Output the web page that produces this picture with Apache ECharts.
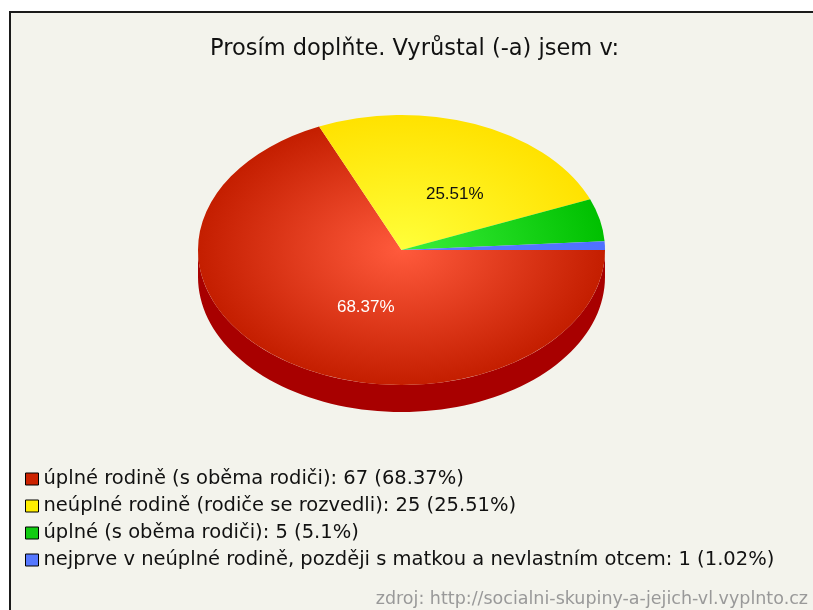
<!DOCTYPE html>
<html>
<head>
<meta charset="utf-8">
<script src="https://cdn.jsdelivr.net/npm/echarts@6/dist/echarts.min.js"></script>
<style>
  html, body { margin: 0; padding: 0; background: #fff; }
  #chart { width: 813px; height: 610px; }
</style>
</head>
<body>
<div id="chart"></div>
<script>
// data
const categories = [
  'úplné rodině (s oběma rodiči)',
  'neúplné rodině (rodiče se rozvedli)',
  'úplné (s oběma rodiči)',
  'nejprve v neúplné rodině, později s matkou a nevlastním otcem'
];
const counts = [67, 25, 5, 1];

// looks
const flatColors = ['#cc2200', '#ffee00', '#11cc11', '#5577ff'];
const topStops = [
  ['#ff5a3c', '#c41e00'],
  ['#ffff3a', '#ffe200'],
  ['#3cf03c', '#00c000'],
  ['#5a7cff', '#4f70ff']
];
const sideColors = ['#a80000', '#c8b000', '#008f00', '#3344cc'];
const labelColors = ['#fff', '#111', '#111', '#fff'];

// pie geometry (tilted)
const CX = 401.5, CY = 250, RX = 203.5, RY = 135, DEPTH = 27;

const total = counts.reduce((a, b) => a + b, 0);
const starts = [];
let acc = 0;
counts.forEach(v => { starts.push(acc); acc += v; });
const pct = v => +(v / total * 100).toFixed(2);

function renderSlice(i) {
  return function (params, api) {
    const v = api.value(0);
    const a0 = starts[i] / total * Math.PI * 2;
    const a1 = a0 + v / total * Math.PI * 2;
    const children = [];

    // front wall of the slice
    const s = Math.max(a0, 0), e = Math.min(a1, Math.PI);
    if (e > s) {
      const pts = [];
      const n = 80;
      for (let k = 0; k <= n; k++) {
        const t = s + (e - s) * k / n;
        pts.push([CX + RX * Math.cos(t), CY + RY * Math.sin(t)]);
      }
      for (let k = n; k >= 0; k--) {
        const t = s + (e - s) * k / n;
        pts.push([CX + RX * Math.cos(t), CY + RY * Math.sin(t) + DEPTH]);
      }
      children.push({ type: 'polygon', shape: { points: pts }, style: { fill: sideColors[i] } });
    }

    // top face
    children.push({
      type: 'sector',
      x: CX, y: CY, scaleY: RY / RX,
      shape: { cx: 0, cy: 0, r: RX, r0: 0, startAngle: a0, endAngle: a1, clockwise: true },
      style: {
        fill: {
          type: 'radial', x: 0, y: 0, r: RX, global: true,
          colorStops: [{ offset: 0, color: topStops[i][0] }, { offset: 1, color: topStops[i][1] }]
        }
      }
    });

    // percent label
    if (pct(v) >= 10) {
      const m = (a0 + a1) / 2;
      children.push({
        type: 'text',
        x: CX + 0.475 * RX * Math.cos(m) + 17,
        y: CY + 0.475 * RY * Math.sin(m) + 4,
        style: {
          text: pct(v) + '%',
          fill: labelColors[i],
          font: '17px "Liberation Sans", Arial, sans-serif',
          align: 'center', verticalAlign: 'middle'
        }
      });
    }
    return { type: 'group', children };
  };
}

const chart = echarts.init(document.getElementById('chart'));
chart.setOption({
  animation: false,
  backgroundColor: '#fff',
  title: [
    {
      text: 'Prosím doplňte. Vyrůstal (-a) jsem v:',
      left: 205, top: 33,
      textStyle: { fontFamily: 'DejaVu Sans', fontSize: 22.5, fontWeight: 'normal', color: '#111' }
    },
    {
      text: 'zdroj: http://socialni-skupiny-a-jejich-vl.vyplnto.cz',
      right: 0, top: 585,
      textStyle: { fontFamily: 'DejaVu Sans', fontSize: 17.5, fontWeight: 'normal', color: '#999' }
    }
  ],
  graphic: [{
    type: 'rect', z: -10, silent: true,
    shape: { x: 10, y: 12, width: 820, height: 620 },
    style: { fill: '#f3f3ec', stroke: '#1a1a1a', lineWidth: 2 }
  }],
  legend: {
    orient: 'vertical',
    left: 25, top: 469, padding: 0,
    itemWidth: 13, itemHeight: 12, itemGap: 7,
    icon: 'rect',
    selectedMode: false,
    itemStyle: { borderColor: '#000', borderWidth: 1 },
    textStyle: { fontFamily: 'DejaVu Sans', fontSize: 19.5, lineHeight: 20, color: '#111' },
    data: categories,
    formatter: name => {
      const i = categories.indexOf(name);
      return name + ': ' + counts[i] + ' (' + pct(counts[i]) + '%)';
    }
  },
  series: categories.map((name, i) => ({
    type: 'custom',
    name: name,
    coordinateSystem: 'none',
    itemStyle: { color: flatColors[i] },
    renderItem: renderSlice(i),
    data: [counts[i]]
  }))
});
</script>
</body>
</html>
